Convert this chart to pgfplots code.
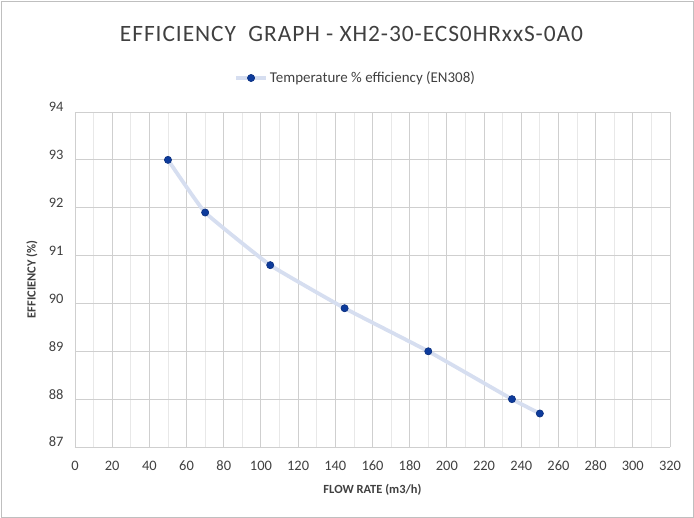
\documentclass[border=0pt]{standalone}
\usepackage{pgfplots}
\pgfplotsset{compat=1.18}
\usepackage{fontspec}
\setmainfont{Carlito}
\definecolor{markblue}{HTML}{0D3B9C}
\definecolor{lineblue}{HTML}{D6DEF0}
\definecolor{majgrid}{HTML}{CFCFCF}
\definecolor{mingrid}{HTML}{E8E8E8}
\definecolor{txt}{HTML}{404040}
\begin{document}
\begin{tikzpicture}
\useasboundingbox (-75bp,-71bp) rectangle (619bp,447bp);
\draw[color=black!25, line width=0.8bp] (-74bp,-70bp) rectangle (618bp,446bp);
\begin{axis}[
  scale only axis, width=595bp, height=335bp,
  xmin=0, xmax=320, ymin=87, ymax=94,
  xtick={0,20,...,320}, ytick={87,88,...,94},
  minor x tick num=1,
  grid=both,
  major grid style={majgrid, line width=0.9bp},
  minor grid style={mingrid, line width=0.7bp},
  axis line style={draw=none},
  axis x line*=bottom, axis y line*=left,
  x axis line style={draw=majgrid, line width=0.9bp},
  tick style={draw=none},
  ticklabel style={font=\fontsize{14.5}{16}\selectfont, text=txt},
  /pgf/number format/assume math mode=true,
  xticklabel style={anchor=center, yshift=-19bp},
  yticklabel style={anchor=east, xshift=-8bp, yshift=5bp},
  xlabel={\textbf{FLOW RATE (m3/h)}},
  ylabel={\textbf{EFFICIENCY (\%)}},
  label style={font=\fontsize{12.5}{14}\selectfont, text=txt},
  xlabel style={at={(axis description cs:0.5,-0.128)}, anchor=center},
  ylabel style={at={(axis description cs:-0.0723,0.5)}, anchor=center},
  title={\addfontfeature{LetterSpace=4}EFFICIENCY\ \ GRAPH - XH2-30-ECS0HRxxS-0A0},
  title style={font=\fontsize{23.5}{27}\selectfont, text=txt, at={(0.5,1)}, anchor=center, yshift=72bp, xshift=-21bp},
  legend style={at={(0.5,1)}, anchor=center, yshift=34bp, xshift=-17bp, draw=none, fill=none,
    font=\fontsize{15}{17}\selectfont, text=txt},
  legend image code/.code={\draw[#1, mark repeat=2, mark phase=2]
    plot coordinates {(0bp,0bp) (15bp,0bp) (30bp,0bp)};},
]
\addplot[lineblue, line width=3.8bp, smooth, tension=0.2,
  mark=*, mark size=3.6bp, mark options={fill=markblue, draw=markblue!80!black, line width=0.6bp}]
  coordinates {(50,93) (70,91.9) (105,90.8) (145,89.9) (190,89) (235,88) (250,87.7)};
\addlegendentry{Temperature \% efficiency (EN308)}
\end{axis}
\end{tikzpicture}
\end{document}
